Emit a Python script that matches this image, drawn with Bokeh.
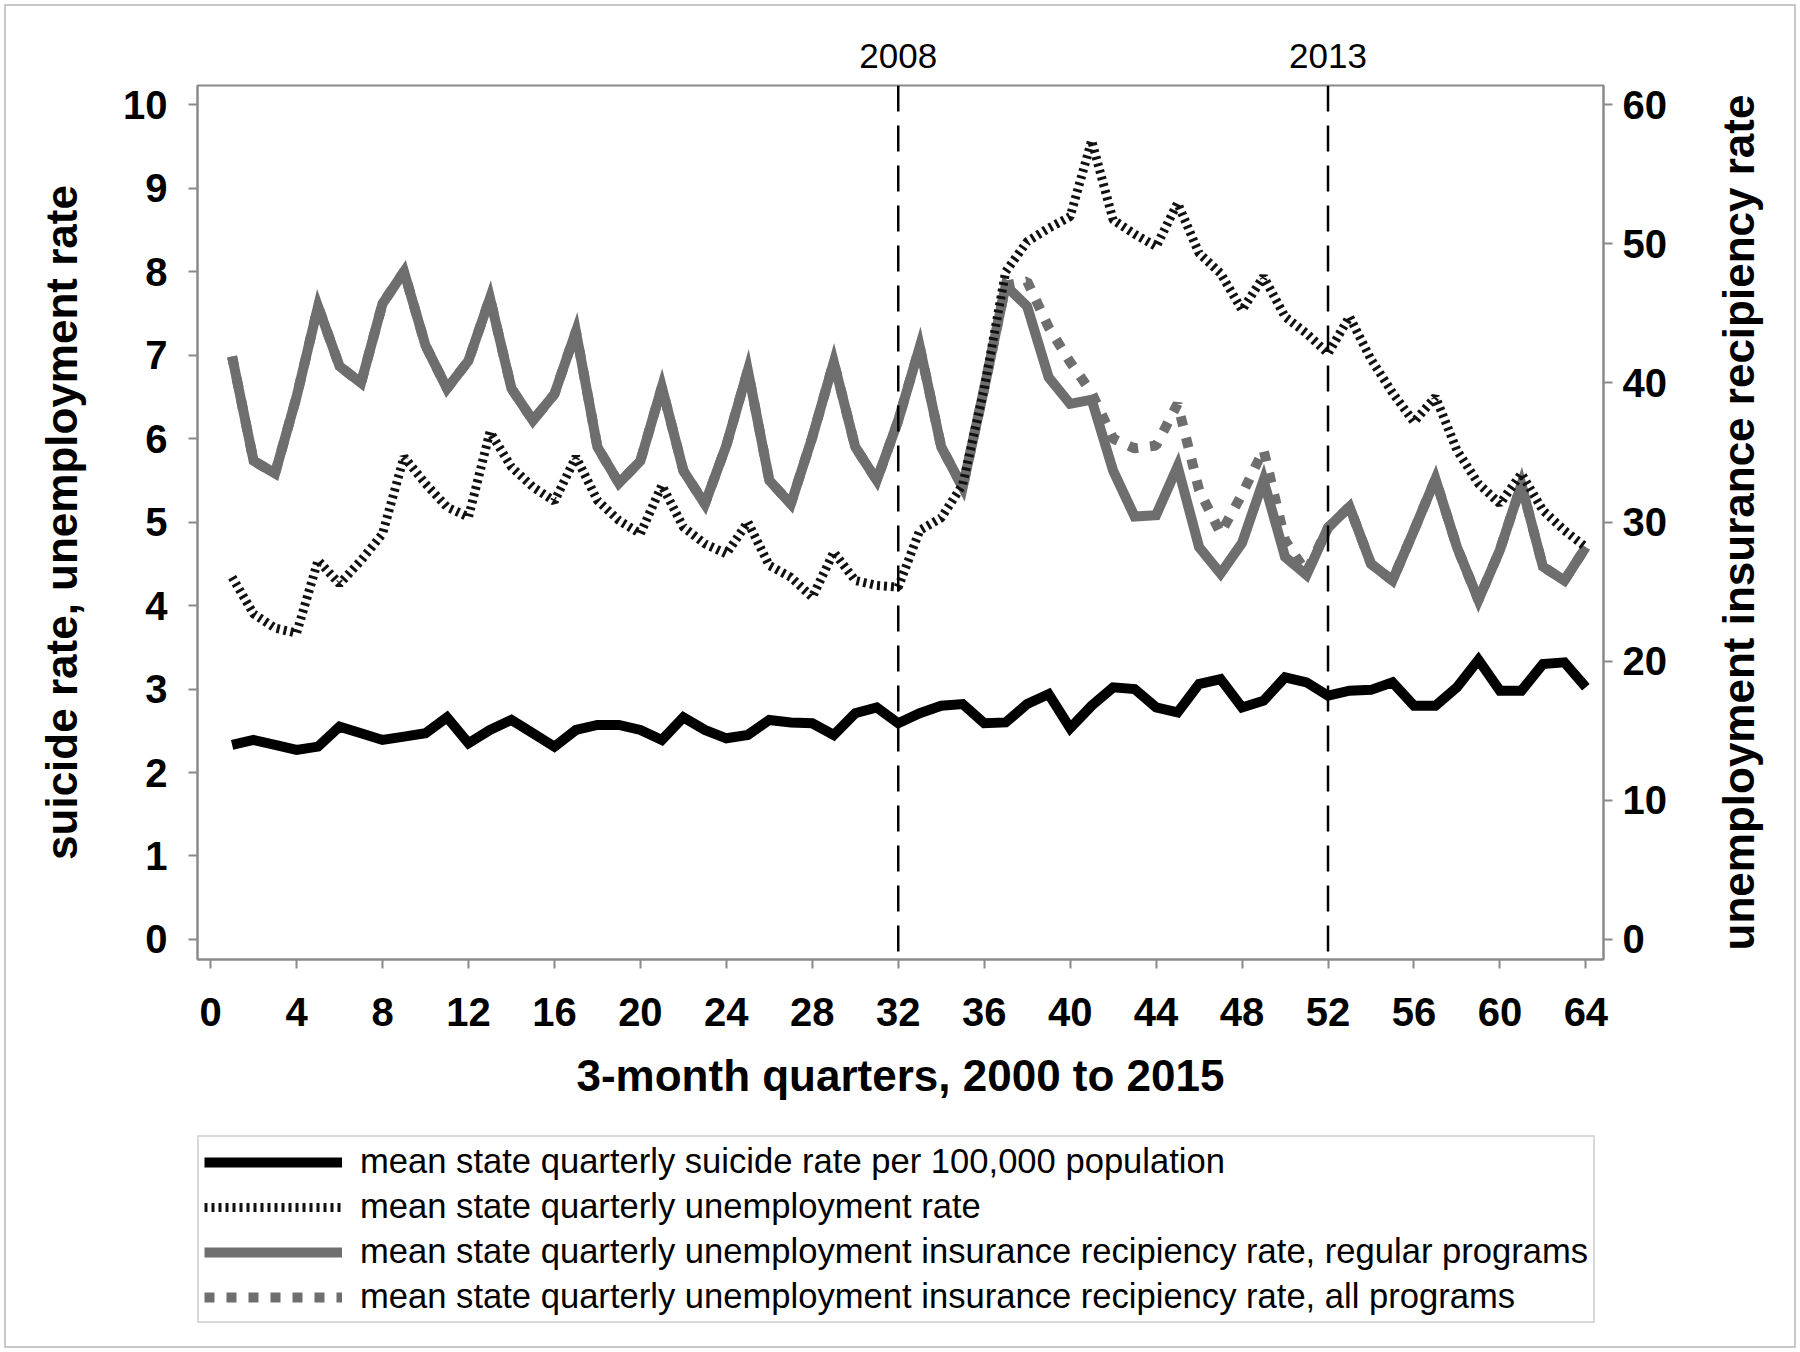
from bokeh.plotting import figure
from bokeh.layouts import column, row
from bokeh.models import (LinearAxis, Range1d, Span, FixedTicker, Legend,
                          LegendItem, ColumnDataSource)
from bokeh.embed import file_html
from bokeh.resources import INLINE

# ---------------- data ----------------
quarter = list(range(1, 65))

suicide_rate = [2.33, 2.39, 2.33, 2.27, 2.31, 2.55, 2.47, 2.39,
                2.43, 2.47, 2.66, 2.35, 2.51, 2.63, 2.47, 2.31,
                2.51, 2.57, 2.57, 2.51, 2.39, 2.66, 2.51, 2.41,
                2.45, 2.63, 2.60, 2.59, 2.45, 2.71, 2.78, 2.59,
                2.71, 2.80, 2.82, 2.59, 2.60, 2.82, 2.94, 2.53,
                2.80, 3.02, 3.00, 2.78, 2.72, 3.06, 3.12, 2.78,
                2.86, 3.14, 3.08, 2.92, 2.98, 2.99, 3.08, 2.80,
                2.80, 3.02, 3.35, 2.98, 2.98, 3.30, 3.32, 3.02]

unemployment_rate = [4.34, 3.90, 3.73, 3.67, 4.54, 4.26, 4.54, 4.86,
                     5.78, 5.46, 5.18, 5.06, 6.08, 5.66, 5.42, 5.25,
                     5.78, 5.26, 5.02, 4.86, 5.44, 4.94, 4.74, 4.62,
                     5.00, 4.48, 4.34, 4.10, 4.64, 4.30, 4.24, 4.22,
                     4.90, 5.05, 5.45, 6.60, 8.00, 8.36, 8.52, 8.66,
                     9.57, 8.62, 8.45, 8.30, 8.82, 8.22, 7.98, 7.54,
                     7.94, 7.46, 7.26, 7.02, 7.46, 6.95, 6.55, 6.20,
                     6.50, 5.86, 5.46, 5.22, 5.58, 5.14, 4.90, 4.70]

ui_regular = [41.9, 34.4, 33.5, 39.0, 45.5, 41.2, 40.0, 45.7,
              48.0, 42.7, 39.6, 41.6, 46.1, 39.6, 37.3, 39.2,
              43.7, 35.4, 32.8, 34.4, 39.7, 33.7, 31.3, 35.5,
              40.9, 33.0, 31.3, 36.1, 41.5, 35.4, 33.0, 37.3,
              42.6, 35.4, 32.5, 39.6, 47.0, 45.5, 40.4, 38.5,
              38.8, 33.7, 30.4, 30.5, 34.0, 28.2, 26.3, 28.5,
              33.0, 27.5, 26.2, 29.6, 31.1, 27.0, 25.8, 29.4,
              33.1, 28.2, 24.4, 28.0, 32.7, 26.8, 25.8, 28.2]

ui_all = [41.9, 34.4, 33.5, 39.0, 45.5, 41.2, 40.0, 45.7,
          48.0, 42.7, 39.6, 41.6, 46.1, 39.6, 37.3, 39.2,
          43.7, 35.4, 32.8, 34.4, 39.7, 33.7, 31.3, 35.5,
          40.9, 33.0, 31.3, 36.1, 41.5, 35.4, 33.0, 37.3,
          42.6, 35.4, 32.5, 39.6, 47.0, 47.3, 44.0, 41.5,
          39.3, 36.0, 35.3, 35.5, 38.5, 32.3, 29.2, 32.0,
          35.2, 28.7, 26.4, 29.6, 31.1, 27.0, 25.8, 29.4,
          33.1, 28.2, 24.4, 28.0, 32.7, 26.8, 25.8, 28.2]

event_quarters = [32, 52]
event_labels = ["2008", "2013"]
x_ticks = list(range(0, 65, 4))
left_ticks = list(range(0, 11))
right_ticks = list(range(0, 61, 10))

legend_labels = [
    "mean state quarterly suicide rate per 100,000 population",
    "mean state quarterly unemployment rate",
    "mean state quarterly unemployment insurance recipiency rate, regular programs",
    "mean state quarterly unemployment insurance recipiency rate, all programs",
]

# ---------------- style ----------------
FONT = "Liberation Sans"
GRAY = "#6e6e6e"
AXGRAY = "#8a8a8a"

W = 1788          # total content width
WP = 1700         # main chart width
WR = W - WP       # strip that carries the right-hand axis title
H1 = 1124
H2 = 216

# frame edges in figure pixels
FL, FT, FR, FB = 191, 79, 1597, 953

p = figure(width=WP, height=H1, output_backend="svg", toolbar_location=None,
           x_range=Range1d(-0.61, 64.82), y_range=Range1d(-0.24, 10.23),
           min_border_left=FL, min_border_right=WP - FR,
           min_border_top=FT, min_border_bottom=H1 - FB,
           background_fill_color="white", border_fill_color="white")
p.xgrid.visible = False
p.ygrid.visible = False
p.outline_line_color = AXGRAY
p.outline_line_width = 2
p.extra_y_ranges = {"ui": Range1d(-1.44, 61.38)}


def style_axis(ax, label, tick_standoff, label_standoff):
    ax.axis_label = label
    ax.axis_label_text_font = FONT
    ax.axis_label_text_font_style = "bold"
    ax.axis_label_text_font_size = "44px"
    ax.axis_label_text_color = "black"
    ax.axis_label_standoff = label_standoff
    ax.major_label_text_font = FONT
    ax.major_label_text_font_style = "bold"
    ax.major_label_text_font_size = "40px"
    ax.major_label_text_color = "black"
    ax.major_label_standoff = tick_standoff
    ax.axis_line_color = AXGRAY
    ax.axis_line_width = 2
    ax.major_tick_line_color = AXGRAY
    ax.major_tick_line_width = 2
    ax.major_tick_in = 0
    ax.major_tick_out = 9
    ax.minor_tick_line_color = None


xa = p.xaxis[0]
xa.ticker = FixedTicker(ticks=x_ticks)
style_axis(xa, "3-month quarters, 2000 to 2015", 29, 22)

ya = p.yaxis[0]
ya.ticker = FixedTicker(ticks=left_ticks)
style_axis(ya, "suicide rate, unemployment rate", 21, 34)

ra = LinearAxis(y_range_name="ui", ticker=FixedTicker(ticks=right_ticks))
style_axis(ra, None, 10, 0)
p.add_layout(ra, "right")

ta = LinearAxis(ticker=FixedTicker(ticks=event_quarters),
                major_label_overrides={q: s for q, s in zip(event_quarters, event_labels)})
ta.axis_line_color = None
ta.major_tick_line_color = None
ta.minor_tick_line_color = None
ta.major_label_text_font = FONT
ta.major_label_text_font_size = "35px"
ta.major_label_text_color = "black"
ta.major_label_standoff = 12
p.add_layout(ta, "above")

for qv in event_quarters:
    p.add_layout(Span(location=qv, dimension="height", line_color="black",
                      line_width=2.5, line_dash="26 14"))

src = ColumnDataSource(dict(q=quarter, s=suicide_rate, u=unemployment_rate,
                            r=ui_regular, a=ui_all))

STYLES = {
    "reg": dict(line_color=GRAY, line_width=10, line_join="miter"),
    "all": dict(line_color=GRAY, line_width=10, line_dash="10 12"),
    "unemp": dict(line_color="#111111", line_width=9, line_dash="3 4"),
    "sui": dict(line_color="black", line_width=10, line_join="miter"),
}

p.line("q", "r", source=src, y_range_name="ui", **STYLES["reg"])
p.line("q", "a", source=src, y_range_name="ui", **STYLES["all"])
p.line("q", "u", source=src, **STYLES["unemp"])
p.line("q", "s", source=src, **STYLES["sui"])

# ---------------- right-hand axis title strip ----------------
RB = 78
rf = figure(width=WR, height=H1, output_backend="svg", toolbar_location=None,
            x_range=Range1d(0, 1), y_range=Range1d(-1.44, 61.38),
            x_axis_location=None, y_axis_location="left",
            min_border_left=RB, min_border_right=0,
            min_border_top=FT, min_border_bottom=H1 - FB,
            background_fill_color="white", border_fill_color="white")
rf.xgrid.visible = False
rf.ygrid.visible = False
rf.outline_line_color = None
ry = rf.yaxis[0]
ry.ticker = FixedTicker(ticks=[])
ry.axis_line_color = None
ry.major_tick_line_color = None
ry.minor_tick_line_color = None
ry.major_label_text_font_size = "0px"
ry.axis_label = "unemployment insurance recipiency rate"
ry.axis_label_text_font = FONT
ry.axis_label_text_font_style = "bold"
ry.axis_label_text_font_size = "44px"
ry.axis_label_text_color = "black"
ry.axis_label_standoff = 22

# ---------------- legend panel ----------------
lg = figure(width=W, height=H2, output_backend="svg", toolbar_location=None,
            x_range=Range1d(-300, -200), y_range=Range1d(0, 100),
            x_axis_location=None, y_axis_location=None,
            min_border_left=FL, min_border_right=W - FR,
            min_border_top=0, min_border_bottom=0,
            background_fill_color="white", border_fill_color="white")
lg.xgrid.visible = False
lg.ygrid.visible = False
lg.outline_line_color = None
lg.extra_y_ranges = {"ui": Range1d(0, 100)}

# same series drawn outside the visible range: they only feed the legend samples
g_sui = lg.line("q", "s", source=src, **STYLES["sui"])
g_unemp = lg.line("q", "u", source=src, **STYLES["unemp"])
g_reg = lg.line("q", "r", source=src, y_range_name="ui", **STYLES["reg"])
g_all = lg.line("q", "a", source=src, y_range_name="ui", **STYLES["all"])

legend = Legend(
    items=[LegendItem(label=legend_labels[0], renderers=[g_sui]),
           LegendItem(label=legend_labels[1], renderers=[g_unemp]),
           LegendItem(label=legend_labels[2], renderers=[g_reg]),
           LegendItem(label=legend_labels[3], renderers=[g_all])],
    location=(0, 23), orientation="vertical",
    glyph_width=138, glyph_height=30, label_height=30, spacing=6,
    padding=5, margin=0, label_standoff=18,
    label_text_font=FONT, label_text_font_size="34.6px",
    label_text_color="black",
    border_line_color="#b4b4b4", border_line_width=2,
    background_fill_color="white", background_fill_alpha=1.0)
lg.add_layout(legend, "center")

layout = column(row(p, rf, spacing=0), lg, spacing=0,
                styles={"margin-left": "6px", "margin-top": "6px",
                        "outline": "2px solid #c8c8c8"})

open("out.html", "w").write(file_html(layout, INLINE))
